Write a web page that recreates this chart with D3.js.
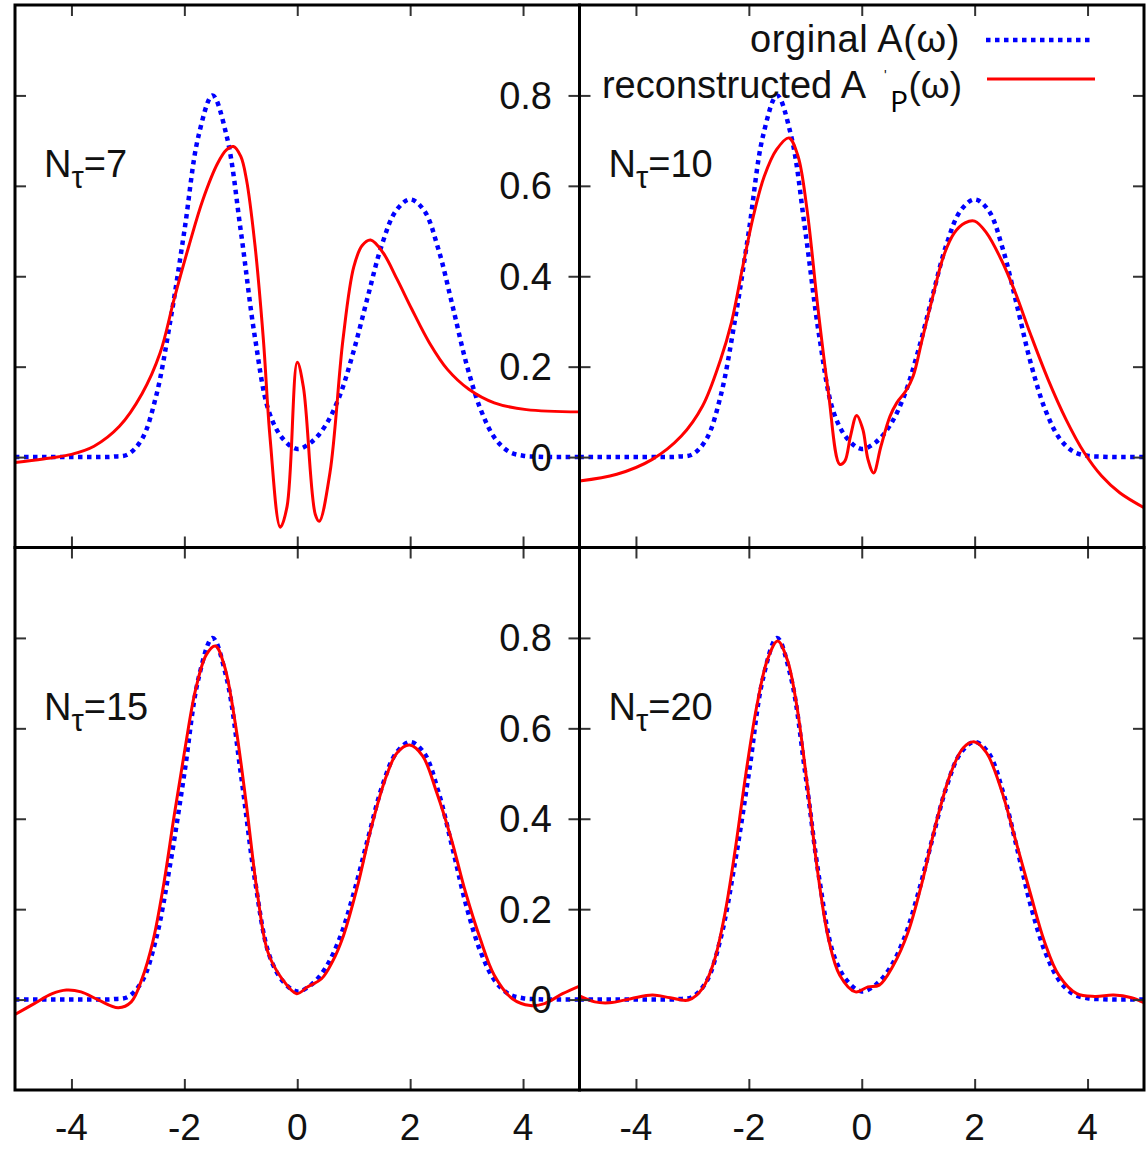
<!DOCTYPE html>
<html><head><meta charset="utf-8">
<script src="https://cdn.jsdelivr.net/npm/d3@7"></script>
<style>body{margin:0;background:#fff} svg text{font-family:"Liberation Sans",Arial,Helvetica,sans-serif;fill:#111}</style>
</head><body><svg id="c" width="1147" height="1149"></svg>
<script>
// ---- data ----
const xTicks = [-4, -2, 0, 2, 4];
const xTickLabels = ["-4", "-2", "0", "2", "4"];
const yTicks = [0, 0.2, 0.4, 0.6, 0.8];
const yTickLabels = ["0", "0.2", "0.4", "0.6", "0.8"];
const panelLabels = ["7", "10", "15", "20"];

// original A(omega)
const origW = [-5,-4.75,-4.5,-4.25,-4,-3.75,-3.5,-3.25,-3,-2.75,-2.5,-2.25,-2,-1.75,-1.5,-1.25,-1,-0.75,-0.5,-0.25,0,0.25,0.5,0.75,1,1.25,1.5,1.75,2,2.25,2.5,2.75,3,3.25,3.5,3.75,4,4.25,4.5,4.75,5];
const origA = [0,0,0,0,0,0,0,0.001,0.006,0.04,0.135,0.30,0.50,0.71,0.80,0.71,0.50,0.265,0.10,0.04,0.018,0.033,0.07,0.135,0.235,0.355,0.47,0.545,0.57,0.545,0.46,0.335,0.205,0.105,0.042,0.012,0.003,0.001,0,0,0];

// reconstructed, N_tau = 7
const n7W = [-5,-4.5,-4,-3.6,-3.15,-2.75,-2.43,-2.18,-1.92,-1.67,-1.41,-1.25,-1.13,-1.0,-0.9,-0.75,-0.6,-0.48,-0.3,-0.18,0.0,0.11,0.32,0.39,0.58,0.81,1.0,1.15,1.3,1.52,1.77,2.03,2.34,2.66,3.04,3.49,4.06,5];
const n7A = [-0.012,-0.004,0.006,0.024,0.068,0.14,0.23,0.35,0.467,0.57,0.65,0.68,0.687,0.665,0.614,0.47,0.26,0.04,-0.155,-0.109,0.21,0.154,-0.127,-0.142,-0.034,0.26,0.42,0.468,0.48,0.452,0.393,0.327,0.253,0.194,0.15,0.12,0.105,0.10];

// reconstructed, N_tau = 10
const n10W = [-5,-4.34,-3.71,-3.2,-2.82,-2.5,-2.31,-2.11,-1.92,-1.73,-1.51,-1.29,-1.13,-0.97,-0.78,-0.59,-0.39,-0.3,-0.2,-0.09,0.02,0.11,0.21,0.34,0.5,0.62,0.78,0.91,1.07,1.26,1.45,1.64,1.83,2.0,2.21,2.47,2.72,2.98,3.3,3.62,3.94,4.25,4.57,5];
const n10A = [-0.053,-0.038,-0.005,0.046,0.113,0.216,0.297,0.42,0.533,0.62,0.68,0.706,0.666,0.548,0.334,0.142,-0.016,-0.009,0.046,0.092,0.061,-0.005,-0.035,0.024,0.09,0.12,0.146,0.179,0.26,0.356,0.445,0.496,0.518,0.522,0.496,0.437,0.364,0.275,0.172,0.083,0.01,-0.042,-0.079,-0.112];

// reconstructed, N_tau = 15
const n15W = [-5,-4.66,-4.34,-4.09,-3.83,-3.52,-3.17,-2.94,-2.75,-2.56,-2.37,-2.18,-1.99,-1.8,-1.61,-1.45,-1.29,-1.1,-0.9,-0.71,-0.52,-0.27,-0.01,0.18,0.43,0.62,0.82,1.07,1.32,1.58,1.77,1.99,2.22,2.47,2.73,2.98,3.24,3.49,3.81,4.13,4.38,4.7,5];
const n15A = [-0.033,-0.009,0.013,0.021,0.017,-0.001,-0.018,-0.005,0.046,0.127,0.252,0.407,0.554,0.686,0.763,0.782,0.738,0.613,0.43,0.238,0.105,0.046,0.013,0.028,0.046,0.083,0.142,0.252,0.385,0.495,0.546,0.563,0.539,0.458,0.355,0.238,0.135,0.054,0.002,-0.013,-0.009,0.013,0.03];

// reconstructed, N_tau = 20
const n20W = [-5,-4.73,-4.47,-4.09,-3.71,-3.39,-3.07,-2.82,-2.62,-2.43,-2.24,-2.05,-1.86,-1.67,-1.49,-1.32,-1.16,-0.97,-0.78,-0.59,-0.39,-0.11,0.11,0.31,0.56,0.82,1.07,1.32,1.58,1.8,2.0,2.21,2.47,2.72,2.98,3.24,3.49,3.81,4.13,4.46,4.78,5];
const n20A = [0.008,-0.005,-0.007,0.002,0.01,0.004,-0.001,0.025,0.083,0.186,0.333,0.502,0.649,0.752,0.793,0.752,0.657,0.48,0.282,0.135,0.054,0.017,0.028,0.032,0.076,0.149,0.26,0.392,0.502,0.557,0.57,0.546,0.465,0.355,0.238,0.127,0.054,0.013,0.007,0.01,0.004,-0.007];

// ---- drawing ----
const svg = d3.select("#c");
const X0 = 15, XM = 579.5, X1 = 1144, Y0 = 5, YM = 547.5, Y1 = 1090;
const cols = [[X0, XM], [XM, X1]];
const rows = [[Y0, YM], [YM, Y1]];
const reds = [[n7W, n7A], [n10W, n10A], [n15W, n15A], [n20W, n20A]];
const BLUE = "#0000ff", RED = "#ff0000";

panelLabels.forEach((lab, i) => {
  const c = i % 2, r = Math.floor(i / 2);
  const x = d3.scaleLinear().domain([-5, 5]).range(cols[c]);
  const y = d3.scaleLinear().domain([-0.2, 1.0]).range([rows[r][1], rows[r][0]]);
  const g = svg.append("g");
  const cid = "clip" + i;
  svg.append("clipPath").attr("id", cid).append("rect")
    .attr("x", cols[c][0]).attr("y", rows[r][0])
    .attr("width", cols[c][1] - cols[c][0]).attr("height", rows[r][1] - rows[r][0]);

  const line = d3.line().x(d => x(d[0])).y(d => y(d[1])).curve(d3.curveCatmullRom.alpha(0.5));
  const plot = g.append("g").attr("clip-path", `url(#${cid})`);
  plot.append("path").datum(origW.map((w, k) => [w, origA[k]]))
    .attr("d", line).attr("fill", "none").attr("stroke", BLUE)
    .attr("stroke-width", 4.5).attr("stroke-dasharray", "4.5 4.5");
  const [rw, ra] = reds[i];
  plot.append("path").datum(rw.map((w, k) => [w, ra[k]]))
    .attr("d", line).attr("fill", "none").attr("stroke", RED)
    .attr("stroke-width", 3).attr("stroke-linejoin", "round");

  // inward ticks on all four sides
  const T = 11;
  const axes = [
    [d3.axisTop(x).tickValues(xTicks), `translate(0,${rows[r][0]})`],
    [d3.axisBottom(x).tickValues(xTicks), `translate(0,${rows[r][1]})`],
    [d3.axisLeft(y).tickValues(yTicks), `translate(${cols[c][0]},0)`],
    [d3.axisRight(y).tickValues(yTicks), `translate(${cols[c][1]},0)`]
  ];
  axes.forEach(([ax, tr]) => {
    const a = g.append("g").attr("transform", tr).call(ax.tickSize(-T).tickFormat(""));
    a.select(".domain").remove();
    a.selectAll("line").attr("stroke", "#333").attr("stroke-width", 2);
  });

  // frame
  g.append("rect").attr("x", cols[c][0]).attr("y", rows[r][0])
    .attr("width", cols[c][1] - cols[c][0]).attr("height", rows[r][1] - rows[r][0])
    .attr("fill", "none").attr("stroke", "#000").attr("stroke-width", 3);

  // panel label N_tau=..
  const t = g.append("text").attr("x", cols[c][0] + 29).attr("y", rows[r][0] + 172)
    .attr("font-size", 38);
  t.append("tspan").text("N");
  t.append("tspan").attr("font-size", 31).attr("dy", 11).text("τ");
  t.append("tspan").attr("dy", -11).text("=" + lab);

  // y tick labels at the middle divider
  if (c === 0) {
    yTicks.forEach((v, k) => {
      g.append("text").attr("x", 552).attr("y", y(v) + 13.5)
        .attr("text-anchor", "end").attr("font-size", 38).text(yTickLabels[k]);
    });
  }
  // x tick labels at the bottom
  if (r === 1) {
    xTicks.forEach((v, k) => {
      g.append("text").attr("x", x(v)).attr("y", 1140)
        .attr("text-anchor", "middle").attr("font-size", 37).text(xTickLabels[k]);
    });
  }
});

// legend
const lg = svg.append("g");
lg.append("text").attr("x", 960).attr("y", 52).attr("text-anchor", "end")
  .attr("font-size", 38).attr("letter-spacing", 0.6).text("orginal A(ω)");
lg.append("line").attr("x1", 986).attr("x2", 1093).attr("y1", 40).attr("y2", 40)
  .attr("stroke", BLUE).attr("stroke-width", 4.5).attr("stroke-dasharray", "4.5 4.5");
lg.append("text").attr("x", 866).attr("y", 98).attr("text-anchor", "end")
  .attr("font-size", 38).text("reconstructed A");
lg.append("text").attr("x", 884).attr("y", 80).attr("font-size", 14).text("'");
lg.append("text").attr("x", 890).attr("y", 112).attr("font-size", 30)
  .style("font-family", "'Open Sans','Noto Sans',sans-serif").style("fill", "#000").text("P");
lg.append("text").attr("x", 962).attr("y", 98).attr("text-anchor", "end")
  .attr("font-size", 37).text("(ω)");
lg.append("line").attr("x1", 987).attr("x2", 1095).attr("y1", 79).attr("y2", 79)
  .attr("stroke", RED).attr("stroke-width", 3);
</script></body></html>
